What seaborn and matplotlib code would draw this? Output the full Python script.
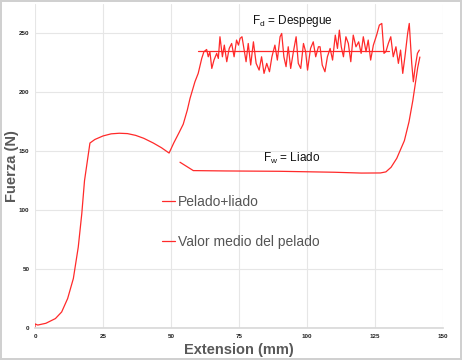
import numpy as np
import pandas as pd
import matplotlib
matplotlib.use("Agg")
import matplotlib.pyplot as plt
import seaborn as sns

# curve "Pelado+liado"
pelado_x = [0, 0, 1, 4, 7.5, 9.8, 12, 14.1, 15.9, 17.2, 18.2, 20.2, 22, 25, 28, 31, 34, 37,
            40, 43.5, 46.5, 49.3, 51, 53, 54.5, 56,
            57.0, 58.8, 60.0, 61.3, 62.1, 63.1, 63.7, 64.3, 65.0, 65.8, 66.8, 67.4,
            68.0, 68.9, 69.6, 70.5, 71.4, 72.3, 73.2, 74.1, 74.8, 75.4, 76.1, 77.0, 77.6,
            78.4, 79.3, 80.3, 81.3, 82.4, 83.3, 84.2, 85.2, 86.2, 87.1, 88.2, 89.1, 90.1,
            90.7, 91.5, 92.3, 93.1, 94.0, 95.0, 96.0, 96.8, 97.7, 98.7, 99.5, 100.2, 101.3,
            102.3, 103.2, 104.2, 104.8, 105.6, 106.6, 107.5, 108.5, 109.4, 110.4, 111.2,
            111.9, 112.6, 113.4, 114.3, 115.2, 116.1, 117.0, 118.0, 119.0, 119.9, 120.7,
            121.7, 122.5, 123.4, 124.4, 125.6, 126.6, 127.5, 128.3, 129.0, 129.9, 130.8,
            131.7, 132.7, 133.6, 134.4, 135.2, 136.0, 137.0, 137.6, 138.5, 139.1, 139.7,
            140.6, 141.3]
pelado_y = [0.5, 3.5, 2.5, 4, 8, 13.6, 25, 42, 68.6, 97, 125, 157, 160, 163, 164.8, 165.3,
            165, 163.5, 161, 157, 153, 148.5, 157, 166, 173, 185,
            194.9, 209.0, 216.1, 228.8, 234.5, 236.4, 230.2, 234.5, 220.3, 227.4,
            233.1, 228.8, 247.2, 230.2, 240.1, 226.0, 237.3, 241.5, 230.2, 244.4, 240.1,
            245.8, 247.2, 234.5, 226.0, 241.5, 223.2, 242.9, 224.6, 218.9, 230.2, 216.1,
            224.6, 217.5, 230.2, 240.1, 227.4, 247.2, 250.0, 230.2, 221.8, 238.7, 220.3,
            234.5, 247.2, 224.6, 220.3, 241.5, 234.5, 218.9, 237.3, 242.9, 230.2, 238.7,
            238.7, 223.2, 217.5, 230.2, 237.3, 227.4, 248.6, 237.3, 252.8, 238.7, 230.2,
            247.2, 241.5, 226.0, 248.6, 238.7, 242.9, 233.1, 247.2, 234.5, 244.4, 227.4,
            240.1, 248.6, 257.1, 258.5, 233.1, 234.5, 241.5, 247.2, 230.2, 238.7, 224.6,
            235.9, 216.1, 230.2, 250.0, 258.5, 224.6, 209.0, 220.3, 233.1, 235.9]

# mean peeling force
medio_x = [60, 130]
medio_y = [234.7, 234.7]

# curve of the wrapping force (F_w)
liado_x = [53.3, 58.2, 70, 90, 110, 120, 127, 129, 130.9, 133, 135.8, 137.5, 138.9, 140.7, 141.5]
liado_y = [140.7, 133.6, 133.3, 133, 132.2, 131.5, 131.6, 132.5, 136.4, 144, 159, 175, 193, 221, 230]

red = "#ff2a2a"

sns.set_theme(style="whitegrid")
plt.rcParams["font.family"] = ["Liberation Sans", "DejaVu Sans"]
plt.rcParams["mathtext.fontset"] = "custom"
plt.rcParams["mathtext.rm"] = "Liberation Sans"

fig = plt.figure(figsize=(4.62, 3.6), dpi=100)
fig.patch.set_edgecolor("#d0d0d0")
fig.patch.set_linewidth(1.5)
ax = fig.add_axes([35 / 462, 32 / 360, 408 / 462, 324 / 360])

df_p = pd.DataFrame({"x": pelado_x, "y": pelado_y})
df_m = pd.DataFrame({"x": medio_x, "y": medio_y})
df_l = pd.DataFrame({"x": liado_x, "y": liado_y})

sns.lineplot(data=df_p, x="x", y="y", sort=False, estimator=None, color=red, lw=0.9,
             label="Pelado+liado", ax=ax)
sns.lineplot(data=df_m, x="x", y="y", sort=False, estimator=None, color=red, lw=0.9,
             label="Valor medio del pelado", ax=ax)
sns.lineplot(data=df_l, x="x", y="y", sort=False, estimator=None, color=red, lw=0.9,
             legend=False, ax=ax)

ax.set_xlim(0, 150)
ax.set_ylim(0, 275)
ax.set_xticks([0, 25, 50, 75, 100, 125, 150])
ax.set_yticks([0, 50, 100, 150, 200, 250])
ax.grid(True, color="#e6e6e6", lw=0.8)
for s in ["top", "right", "left"]:
    ax.spines[s].set_visible(False)
ax.spines["bottom"].set_color("#d9d9d9")
ax.tick_params(length=0, labelsize=4.5, pad=4, colors="#222222")
for lab in ax.get_xticklabels() + ax.get_yticklabels():
    lab.set_fontweight("bold")

ax.set_xlabel("Extension (mm)", fontsize=10.5, fontweight="bold", color="#595959")
ax.set_ylabel("Fuerza (N)", fontsize=10.5, fontweight="bold", color="#595959")
ax.xaxis.set_label_coords(0.5, -0.045)
ax.yaxis.set_label_coords(-0.038, 0.5)

fig.text(292 / 462, 1 - 21 / 360, "F$_{\\mathregular{d}}$ = Despegue", fontsize=8.5,
         ha="center", va="center", color="#111111")
fig.text(292 / 462, 1 - 158 / 360, "F$_{\\mathregular{w}}$ = Liado", fontsize=8.5,
         ha="center", va="center", color="#111111")

leg = ax.legend(loc="upper left", bbox_to_anchor=(121 / 408, 1 - 185 / 324), frameon=False,
                fontsize=10, labelspacing=1.9, handlelength=1.0, handletextpad=0.15,
                borderaxespad=0)
for t in leg.get_texts():
    t.set_color("#555555")

fig.savefig("out.png", dpi=100)
